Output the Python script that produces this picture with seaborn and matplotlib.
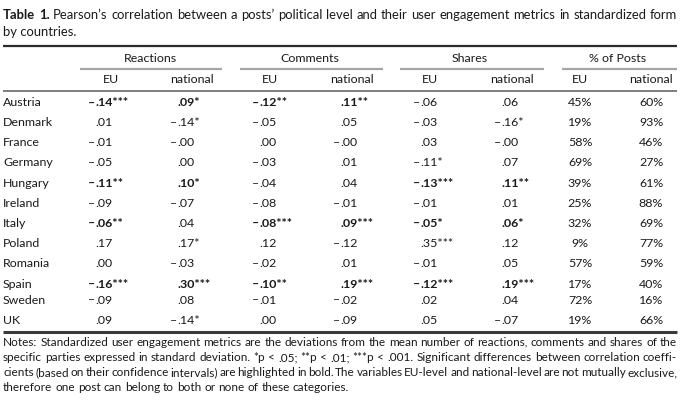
import matplotlib
matplotlib.use('Agg')
import matplotlib.pyplot as plt
import seaborn as sns
import pandas as pd

sns.set_theme(style='white')
plt.rcParams['font.family'] = ['Lato', 'DejaVu Sans']

# Table data
countries = ['Austria', 'Denmark', 'France', 'Germany', 'Hungary', 'Ireland',
             'Italy', 'Poland', 'Romania', 'Spain', 'Sweden', 'UK']
reactions_eu = ['-.14***', '.01', '-.01', '-.05', '-.11**', '-.09',
                '-.06**', '.17', '.00', '-.16***', '-.09', '.09']
reactions_nat = ['.09*', '-.14*', '-.00', '.00', '.10*', '-.07',
                 '.04', '.17*', '-.03', '.30***', '.08', '-.14*']
comments_eu = ['-.12**', '-.05', '.00', '-.03', '-.04', '-.08',
               '-.08***', '.12', '-.02', '-.10**', '-.01', '.00']
comments_nat = ['.11**', '.05', '-.00', '.01', '.04', '-.01',
                '.09***', '-.12', '.01', '.19***', '-.02', '-.09']
shares_eu = ['-.06', '-.03', '.03', '-.11*', '-.13***', '-.01',
             '-.05*', '.35***', '-.01', '-.12***', '.02', '.05']
shares_nat = ['.06', '-.16*', '-.00', '.07', '.11**', '.01',
              '.06*', '.12', '.05', '.19***', '.04', '-.07']
posts_eu = [45, 19, 58, 69, 39, 25, 32, 9, 57, 17, 72, 19]
posts_nat = [60, 93, 46, 27, 61, 88, 69, 77, 59, 40, 16, 66]

# cells printed in bold
reactions_eu_bold = ['Austria', 'Hungary', 'Italy', 'Spain']
reactions_nat_bold = ['Austria', 'Hungary', 'Spain']
comments_eu_bold = ['Austria', 'Italy', 'Spain']
comments_nat_bold = ['Austria', 'Italy', 'Spain']
shares_eu_bold = ['Hungary', 'Italy', 'Spain']
shares_nat_bold = ['Hungary', 'Italy', 'Spain']

groups = ['Reactions', 'Comments', 'Shares', '% of Posts']
sub_labels = ['EU', 'national'] * 4

title_line1 = ('Table 1. Pearson\u2019s correlation between a posts\u2019 political level '
               'and their user engagement metrics in standardized form')
title_line2 = 'by countries.'
notes_lines = [
    'Notes: Standardized user engagement metrics are the deviations from the mean number of reactions, comments and shares of the',
    'specific parties expressed in standard deviation. *p < .05; **p < .01; ***p < .001. Significant differences between correlation coeffi-',
    'cients (based on their confidence intervals) are highlighted in bold. The variables EU-level and national-level are not mutually exclusive,',
    'therefore one post can belong to both or none of these categories.',
]

corr = pd.DataFrame({
    'r_eu': reactions_eu, 'r_nat': reactions_nat,
    'c_eu': comments_eu, 'c_nat': comments_nat,
    's_eu': shares_eu, 's_nat': shares_nat,
}, index=countries)
bold = {'r_eu': reactions_eu_bold, 'r_nat': reactions_nat_bold,
        'c_eu': comments_eu_bold, 'c_nat': comments_nat_bold,
        's_eu': shares_eu_bold, 's_nat': shares_nat_bold}

# Layout (pixels)
W, H = 680, 407
LEFT, RIGHT = 3, 677
TXT = '#1a1a1a'
decimal_x = [95, 177, 259, 340, 420, 501]
pct_x = [580, 651]
sub_x = [111, 192, 270, 352, 430, 512, 580, 651]
group_x = [150, 310, 470, 618]
group_span = [(80, 222), (240, 383), (400, 544), (562, 677)]
row_y = [103, 123, 143, 163, 183.5, 203.5, 223.5, 243.5, 263.5, 284, 300, 320.5]

fig = plt.figure(figsize=(6.8, 4.07), dpi=100)
ax = fig.add_axes([0, 0, 1, 1])
ax.set_xlim(0, W)
ax.set_ylim(H, 0)
ax.axis('off')
renderer = fig.canvas.get_renderer()


def text_width(s, size, weight='normal'):
    t = ax.text(0, 0, s, fontsize=size, fontweight=weight)
    w = t.get_window_extent(renderer).width
    t.remove()
    return w


def fit_size(s, target, weight='normal'):
    return 10 * target / text_width(s, 10, weight)


def justify(words, y, size, weights=None, stretch=True):
    weights = weights or ['normal'] * len(words)
    texts = [ax.text(0, y, w, fontsize=size, fontweight=wt, color=TXT, va='center')
             for w, wt in zip(words, weights)]
    widths = [t.get_window_extent(renderer).width for t in texts]
    space = text_width('a a', size) - text_width('aa', size)
    gap = (RIGHT - LEFT - sum(widths)) / (len(words) - 1) if stretch else space
    x = LEFT
    for t, w in zip(texts, widths):
        t.set_x(x)
        x += w + gap


# title
words = title_line1.split()
tw = ['bold', 'bold'] + ['normal'] * (len(words) - 2)
title_size = fit_size(title_line1, RIGHT - LEFT) * 0.99
justify(words, 15, title_size, tw)
ax.text(LEFT, 31.5, title_line2, fontsize=title_size, color=TXT, va='center')

# rules
ax.plot([LEFT, RIGHT], [45.5, 45.5], color='#2b2b2b', lw=1.6, solid_capstyle='butt')
for x0, x1 in group_span:
    ax.plot([x0, x1], [69, 69], color='#a6a6a6', lw=1.6, solid_capstyle='butt')
ax.plot([LEFT, RIGHT], [91, 91], color='#5a5a5a', lw=1.1, solid_capstyle='butt')
ax.plot([LEFT, RIGHT], [332, 332], color='#3a3a3a', lw=2.2, solid_capstyle='butt')

# headers
cell_size = fit_size('Denmark', 50)
for g, x in zip(groups, group_x):
    ax.text(x, 58, g, fontsize=cell_size, color=TXT, ha='center', va='center')
for s, x in zip(sub_labels, sub_x):
    ax.text(x, 79.5, s, fontsize=cell_size, color=TXT, ha='center', va='center')

# body
for i, c in enumerate(countries):
    y = row_y[i]
    ax.text(LEFT, y, c, fontsize=cell_size, color=TXT, va='center')
    for col, x in zip(corr.columns, decimal_x):
        val = corr.loc[c, col]
        wt = 'bold' if c in bold[col] else 'normal'
        if val.startswith('-'):
            ax.text(x, y, '\u2013', fontsize=cell_size, fontweight=wt, color=TXT,
                    ha='right', va='center')
            val = val[1:]
        ax.text(x, y, val, fontsize=cell_size, fontweight=wt, color=TXT,
                ha='left', va='center')
    for vals, x in zip([posts_eu, posts_nat], pct_x):
        ax.text(x, y, f'{vals[i]}%', fontsize=cell_size, color=TXT,
                ha='center', va='center')

# notes
fits = [fit_size(l, RIGHT - LEFT) for l in notes_lines[:3]]
notes_size = sorted(fits)[1]
notes_y = [342, 357.5, 372.5, 387.5]
for k, (line, y) in enumerate(zip(notes_lines, notes_y)):
    justify(line.split(), y, notes_size, stretch=(k < 3))

fig.savefig('out.png', dpi=100, facecolor='white')
